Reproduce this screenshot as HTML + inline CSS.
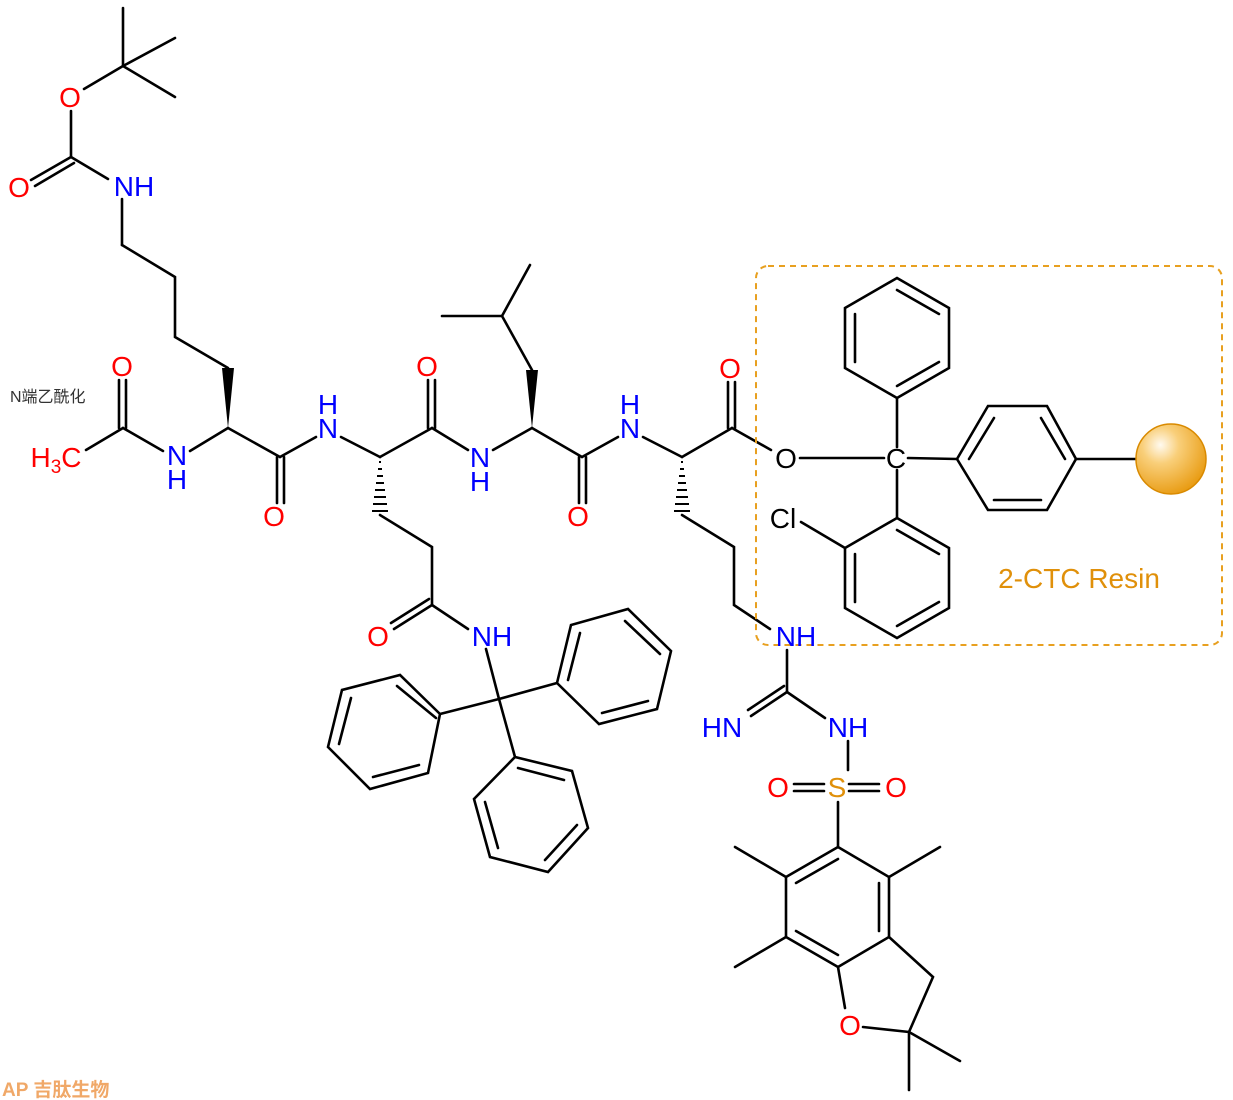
<!DOCTYPE html>
<html><head><meta charset="utf-8"><style>
html,body{margin:0;padding:0;background:#fff;}
svg{display:block}
text{font-family:"Liberation Sans","Noto Sans CJK SC",sans-serif;font-size:28px;text-anchor:middle}
.b{fill:#0000ff}.r{fill:#ff0000}.k{fill:#000}.s{fill:#e0900a}
</style></head><body>
<svg width="1233" height="1100" viewBox="0 0 1233 1100" xmlns="http://www.w3.org/2000/svg">
<defs>
<radialGradient id="g" cx="0.35" cy="0.3" r="0.75">
<stop offset="0" stop-color="#fffaf0"/><stop offset="0.35" stop-color="#f9cf7a"/><stop offset="1" stop-color="#e89a10"/>
</radialGradient>
</defs>
<g stroke="#000" stroke-width="2.6" fill="none" stroke-linecap="round">
<line x1="123" y1="66" x2="123" y2="8"/><line x1="123" y1="66" x2="175" y2="38"/><line x1="123" y1="66" x2="175" y2="97"/>
<line x1="123" y1="66" x2="84" y2="89"/>
<line x1="71" y1="111" x2="71" y2="157"/>
<line x1="71" y1="157" x2="31" y2="180"/><line x1="74" y1="163" x2="35" y2="186"/>
<line x1="71" y1="157" x2="108" y2="179"/>
<line x1="122" y1="199" x2="122" y2="245"/>
<polyline points="122,245 175,277 175,337 228,368"/>
<line x1="119" y1="428" x2="119" y2="380"/><line x1="126" y1="428" x2="126" y2="380"/>
<line x1="123" y1="428" x2="86" y2="450"/>
<line x1="123" y1="428" x2="163" y2="451"/>
<line x1="190" y1="451" x2="228" y2="428"/>
<line x1="228" y1="428" x2="280" y2="457"/>
<line x1="277" y1="457" x2="277" y2="503"/><line x1="284" y1="457" x2="284" y2="503"/>
<line x1="280" y1="457" x2="316" y2="437"/>
<line x1="341" y1="437" x2="380" y2="457"/>
<line x1="380" y1="457" x2="432" y2="428"/>
<line x1="428" y1="428" x2="428" y2="380"/><line x1="435" y1="428" x2="435" y2="380"/>
<polyline points="380,515 432,547 432,605"/>
<line x1="432" y1="605" x2="394" y2="629"/><line x1="429" y1="599" x2="391" y2="623"/>
<line x1="432" y1="605" x2="468" y2="629"/>
<line x1="486" y1="649" x2="499" y2="699"/>
<line x1="499" y1="699" x2="440" y2="714"/><line x1="499" y1="699" x2="557" y2="683"/><line x1="499" y1="699" x2="515" y2="757"/>
<polygon points="440,714 400,675 342,690 328,747 370,789 428,773"/>
<line x1="397" y1="686" x2="436" y2="718"/><line x1="351" y1="698" x2="339" y2="744"/><line x1="373" y1="777" x2="419" y2="765"/>
<polygon points="557,683 571,625 628,609 671,651 657,709 599,724"/>
<line x1="568" y1="680" x2="580" y2="633"/><line x1="625" y1="621" x2="660" y2="654"/><line x1="648" y1="701" x2="602" y2="713"/>
<polygon points="515,757 572,771 588,828 548,872 490,857 474,799"/>
<line x1="518" y1="768" x2="564" y2="780"/><line x1="577" y1="825" x2="545" y2="860"/><line x1="498" y1="848" x2="485" y2="802"/>
<line x1="432" y1="428" x2="468" y2="450"/>
<line x1="493" y1="450" x2="532" y2="428"/>
<polyline points="532,370 502,316 442,316"/><line x1="502" y1="316" x2="530" y2="265"/>
<line x1="532" y1="428" x2="582" y2="457"/>
<line x1="579" y1="457" x2="579" y2="503"/><line x1="586" y1="457" x2="586" y2="503"/>
<line x1="582" y1="457" x2="618" y2="437"/>
<line x1="643" y1="437" x2="682" y2="457"/>
<line x1="682" y1="457" x2="732" y2="428"/>
<line x1="728" y1="428" x2="728" y2="382"/><line x1="735" y1="428" x2="735" y2="382"/>
<line x1="732" y1="428" x2="771" y2="450"/>
<polyline points="682,515 734,547 734,605 770,629"/>
<line x1="787" y1="650" x2="787" y2="692"/>
<line x1="787" y1="692" x2="751" y2="716"/><line x1="784" y1="686" x2="748" y2="710"/>
<line x1="787" y1="692" x2="825" y2="718"/>
<line x1="848" y1="741" x2="848" y2="770"/>
<line x1="794" y1="784" x2="824" y2="784"/><line x1="794" y1="791" x2="824" y2="791"/>
<line x1="849" y1="784" x2="879" y2="784"/><line x1="849" y1="791" x2="879" y2="791"/>
<line x1="838" y1="802" x2="838" y2="847"/>
<polygon points="838,847 889,877 889,937 838,967 786,937 786,877"/>
<line x1="838" y1="859" x2="796" y2="883"/><line x1="879" y1="883" x2="879" y2="931"/><line x1="838" y1="955" x2="796" y2="931"/>
<line x1="786" y1="877" x2="735" y2="847"/><line x1="889" y1="877" x2="940" y2="847"/><line x1="786" y1="937" x2="735" y2="967"/>
<polyline points="889,937 933,977 909,1032"/>
<line x1="838" y1="967" x2="845" y2="1008"/>
<line x1="863" y1="1027" x2="909" y2="1032"/>
<line x1="909" y1="1032" x2="960" y2="1061"/><line x1="909" y1="1032" x2="909" y2="1090"/>
<line x1="800" y1="458" x2="884" y2="458"/>
<line x1="908" y1="458" x2="957" y2="459"/>
<line x1="897" y1="447" x2="897" y2="398"/>
<line x1="897" y1="470" x2="897" y2="518"/>
<polygon points="897,398 845,368 845,308 897,278 949,308 949,368"/>
<line x1="897" y1="290" x2="939" y2="314"/><line x1="939" y1="362" x2="897" y2="386"/><line x1="855" y1="314" x2="855" y2="362"/>
<polygon points="957,459 988,406 1047,406 1076,459 1047,510 988,510"/>
<line x1="969" y1="459" x2="994" y2="418"/><line x1="1041" y1="418" x2="1065" y2="459"/><line x1="1041" y1="500" x2="994" y2="500"/>
<polygon points="897,518 949,548 949,608 897,638 845,608 845,548"/>
<line x1="897" y1="530" x2="939" y2="554"/><line x1="939" y1="602" x2="897" y2="626"/><line x1="855" y1="554" x2="855" y2="602"/>
<line x1="845" y1="548" x2="801" y2="522"/>
<line x1="1076" y1="459" x2="1137" y2="459"/>
</g>
<polygon points="228,428 222,368 234,368" fill="#000"/>
<polygon points="532,428 526,370 538,370" fill="#000"/>
<g stroke="#000" stroke-width="2">
<line x1="379" y1="462" x2="381" y2="462"/><line x1="378" y1="469" x2="382" y2="469"/><line x1="377" y1="476" x2="383" y2="476"/><line x1="376" y1="483" x2="384" y2="483"/><line x1="375" y1="490" x2="385" y2="490"/><line x1="374" y1="497" x2="386" y2="497"/><line x1="373" y1="504" x2="387" y2="504"/><line x1="372" y1="511" x2="388" y2="511"/>
<line x1="681" y1="462" x2="683" y2="462"/><line x1="680" y1="469" x2="684" y2="469"/><line x1="679" y1="476" x2="685" y2="476"/><line x1="678" y1="483" x2="686" y2="483"/><line x1="677" y1="490" x2="687" y2="490"/><line x1="676" y1="497" x2="688" y2="497"/><line x1="675" y1="504" x2="689" y2="504"/><line x1="674" y1="511" x2="690" y2="511"/>
</g>
<ellipse cx="1171" cy="459" rx="35" ry="35" fill="url(#g)" stroke="#d98a00" stroke-width="1.5"/>
<rect x="756" y="266" width="466" height="379" rx="12" fill="none" stroke="#e8a020" stroke-width="2" stroke-dasharray="6,5"/>
<text x="70" y="107" class="r">O</text>
<text x="19" y="197" class="r">O</text>
<text x="134" y="196" class="b">NH</text>
<text x="122" y="376" class="r">O</text>
<text x="56" y="467" class="r">H<tspan font-size="19" dy="6">3</tspan><tspan dy="-6">C</tspan></text>
<text x="177" y="465" class="b">N</text><text x="177" y="489" class="b">H</text>
<text x="274" y="526" class="r">O</text>
<text x="328" y="414" class="b">H</text><text x="328" y="438" class="b">N</text>
<text x="427" y="376" class="r">O</text>
<text x="378" y="646" class="r">O</text>
<text x="492" y="646" class="b">NH</text>
<text x="480" y="467" class="b">N</text><text x="480" y="491" class="b">H</text>
<text x="578" y="526" class="r">O</text>
<text x="630" y="414" class="b">H</text><text x="630" y="438" class="b">N</text>
<text x="730" y="378" class="r">O</text>
<text x="786" y="468" class="k">O</text>
<text x="896" y="468" class="k">C</text>
<text x="783" y="528" class="k">Cl</text>
<text x="796" y="646" class="b">NH</text>
<text x="722" y="737" class="b">HN</text>
<text x="848" y="737" class="b">NH</text>
<text x="837" y="797" class="s">S</text>
<text x="778" y="797" class="r">O</text>
<text x="896" y="797" class="r">O</text>
<text x="850" y="1035" class="r">O</text>
<text x="1079" y="588" class="s" style="font-size:28px">2-CTC Resin</text>
<text x="10" y="402" style="font-size:16px;text-anchor:start;fill:#333">N端乙酰化</text>
<text x="2" y="1096" style="font-size:19px;text-anchor:start;fill:#f0a868;font-weight:bold">AP 吉肽生物</text>
</svg>
</body></html>
